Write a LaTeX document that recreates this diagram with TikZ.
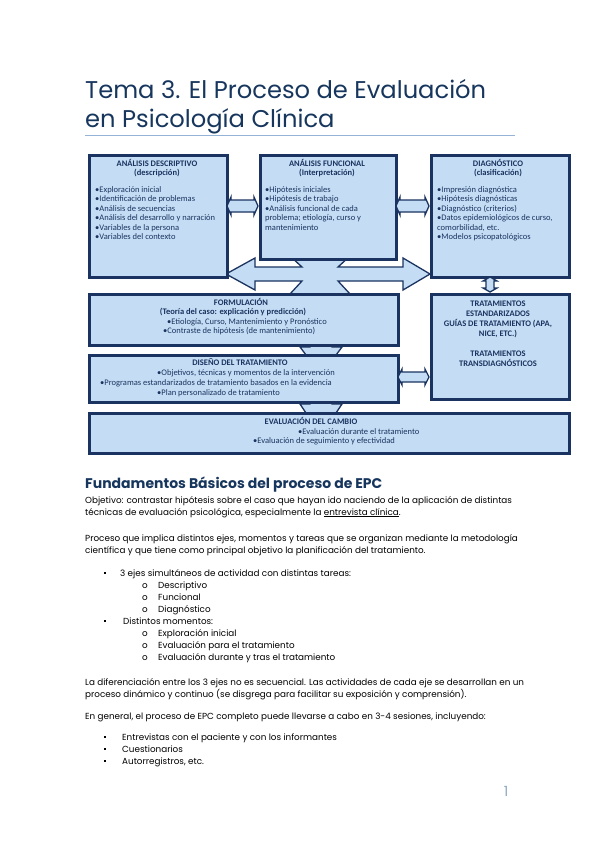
\documentclass[tikz,border=0pt]{standalone}
\usepackage{fontspec}
\setmainfont{Poppins}
\newfontfamily\boxfont{Carlito}
\usetikzlibrary{calc}
\definecolor{navy}{HTML}{1B3360}
\definecolor{titleblue}{HTML}{17365D}
\definecolor{boxfill}{HTML}{C4DDF4}
\definecolor{rulec}{HTML}{95B3D7}
\definecolor{pagenum}{HTML}{8EA9C1}
\tikzset{
  box/.style={draw=navy, line width=2.6pt, fill=boxfill, inner sep=0pt, anchor=north west},
  barrow/.style={draw=navy, line width=1.3pt, fill=boxfill, line join=miter},
  btxt/.style={font=\boxfont\fontsize{8.5}{9.5}\selectfont, text=navy, inner sep=0pt, anchor=base west},
  bhead/.style={font=\boxfont\bfseries\fontsize{8.5}{9.5}\selectfont, text=navy, inner sep=0pt, anchor=base},
  titletxt/.style={font=\fontsize{24.2}{28}\selectfont, text=titleblue, inner sep=0pt, anchor=base west},
  headtxt/.style={font=\bfseries\fontsize{14}{16}\selectfont, text=titleblue, inner sep=0pt, anchor=base west},
  body/.style={font=\fontsize{8.8}{10}\selectfont, text=black, inner sep=0pt, anchor=base west},
  sq/.style={fill=black, minimum size=2.4pt, inner sep=0pt},
}
\newcommand{\hdarr}[6]{% x1 x2 y shafthalf headhalf headlen
  \draw[barrow] (#1,#3) -- ({#1+#6},{#3-#5}) -- ({#1+#6},{#3-#4}) -- ({#2-#6},{#3-#4}) -- ({#2-#6},{#3-#5}) -- (#2,#3)
    -- ({#2-#6},{#3+#5}) -- ({#2-#6},{#3+#4}) -- ({#1+#6},{#3+#4}) -- ({#1+#6},{#3+#5}) -- cycle;}
\newcommand{\vdarr}[6]{% y1 y2 x shafthalf headhalf headlen
  \draw[barrow] (#3,#1) -- ({#3-#5},{#1+#6}) -- ({#3-#4},{#1+#6}) -- ({#3-#4},{#2-#6}) -- ({#3-#5},{#2-#6}) -- (#3,#2)
    -- ({#3+#5},{#2-#6}) -- ({#3+#4},{#2-#6}) -- ({#3+#4},{#1+#6}) -- ({#3+#5},{#1+#6}) -- cycle;}
\newcommand{\downarr}[3]{% ytop ybottom xcenter
  \draw[barrow] ({#3-11},#1) -- ({#3-11},{#1+4}) -- ({#3-21},{#1+4}) -- ({#3-15},#2) -- ({#3+15},#2) -- ({#3+21},{#1+4}) -- ({#3+11},{#1+4}) -- ({#3+11},#1);}
\begin{document}
\begin{tikzpicture}[x=1pt,y=-1pt]
\path[use as bounding box, fill=white] (0,0) rectangle (599,848);

% Title
\node[titletxt] (t1) at (85,99) {Tema 3. El Proceso de Evaluación};
\node[titletxt] (t2) at (85,128) {en Psicología Clínica};
\draw[rulec, line width=0.9pt] (85,135) -- (515,135);

% big cross arrow (behind boxes)
\draw[barrow] (226,274) -- (255,258) -- (255,267) -- (302,267) -- (290,256) -- (350,256) -- (338,267) -- (403,267) -- (403,258) -- (430,274)
  -- (403,290) -- (403,281) -- (338,281) -- (350,294) -- (290,294) -- (302,281) -- (255,281) -- (255,290) -- cycle;
\downarr{343}{355}{321}
\downarr{400}{413}{321}

% Boxes
\node[box, minimum width=138pt, minimum height=122pt] (desc) at (88,154) {};
\node[box, minimum width=136pt, minimum height=104pt] (func) at (259,154) {};
\node[box, minimum width=138pt, minimum height=122pt] (diag) at (430,154) {};
\node[box, minimum width=309pt, minimum height=51pt] (form) at (88,293) {};
\node[box, minimum width=138pt, minimum height=105pt] (trat) at (430,293) {};
\node[box, minimum width=309pt, minimum height=47pt] (dise) at (88,354) {};
\node[box, minimum width=480pt, minimum height=40pt] (eval) at (88,412) {};

% small double arrows
\hdarr{227}{258}{206}{6}{9}{4}
\hdarr{396}{429}{206}{6}{9}{4}
\vdarr{277}{292}{490}{4}{7}{4}
\hdarr{398}{429}{377}{5}{8}{4}

% Box 1 text
\node[bhead] (d0) at (157,166) {ANÁLISIS DESCRIPTIVO};
\node[bhead] (d1) at (157,175.5) {(descripción)};
\node[btxt] (d2) at (95,192) {•Exploración inicial};
\node[btxt] (d3) at (95,201.5) {•Identificación de problemas};
\node[btxt] (d4) at (95,211) {•Análisis de secuencias};
\node[btxt] (d5) at (95,220.5) {•Análisis del desarrollo y narración};
\node[btxt] (d6) at (95,230) {•Variables de la persona};
\node[btxt] (d7) at (95,239.5) {•Variables del contexto};

% Box 2 text
\node[bhead] (f0) at (327,166) {ANÁLISIS FUNCIONAL};
\node[bhead] (f1) at (327,175.5) {(Interpretación)};
\node[btxt] (f2) at (265,192) {•Hipótesis iniciales};
\node[btxt] (f3) at (265,201.5) {•Hipótesis de trabajo};
\node[btxt] (f4) at (265,211) {•Análisis funcional de cada};
\node[btxt] (f5) at (265,220.5) {problema; etiología, curso y};
\node[btxt] (f6) at (265,230) {mantenimiento};

% Box 3 text
\node[bhead] (g0) at (498,166) {DIAGNÓSTICO};
\node[bhead] (g1) at (498,175.5) {(clasificación)};
\node[btxt] (g2) at (437,192) {•Impresión diagnóstica};
\node[btxt] (g3) at (437,201.5) {•Hipótesis diagnósticas};
\node[btxt] (g4) at (437,211) {•Diagnóstico (criterios)};
\node[btxt] (g5) at (437,220.5) {•Datos epidemiológicos de curso,};
\node[btxt] (g6) at (437,230) {comorbilidad, etc.};
\node[btxt] (g7) at (437,239.5) {•Modelos psicopatológicos};

% Formulacion text
\node[bhead] (h0) at (241,305) {FORMULACIÓN};
\node[bhead] (h1) at (233,314.5) {(Teoría del caso: explicación y predicción)};
\node[btxt] (h2) at (167,324) {•Etiología, Curso, Mantenimiento y Pronóstico};
\node[btxt] (h3) at (163,333.5) {•Contraste de hipótesis (de mantenimiento)};

% Tratamientos text
\node[bhead] (k0) at (498,306) {TRATAMIENTOS};
\node[bhead] (k1) at (498,316) {ESTANDARIZADOS};
\node[bhead] (k2) at (498,326) {GUÍAS DE TRATAMIENTO (APA,};
\node[bhead] (k3) at (498,336) {NICE, ETC.)};
\node[bhead] (k4) at (498,356) {TRATAMIENTOS};
\node[bhead] (k5) at (498,366) {TRANSDIAGNÓSTICOS};

% Diseno text
\node[bhead] (m0) at (240,365.5) {DISEÑO DEL TRATAMIENTO};
\node[btxt] (m1) at (157,375) {•Objetivos, técnicas y momentos de la intervención};
\node[btxt] (m2) at (100,385) {•Programas estandarizados de tratamiento basados en la evidencia};
\node[btxt] (m3) at (157,395) {•Plan personalizado de tratamiento};

% Evaluacion text
\node[bhead] (n0) at (311,424) {EVALUACIÓN DEL CAMBIO};
\node[btxt] (n1) at (298,434) {•Evaluación durante el tratamiento};
\node[btxt] (n2) at (253,443) {•Evaluación de seguimiento y efectividad};

% Body section
\node[headtxt] (hd) at (85,488) {Fundamentos Básicos del proceso de EPC};
\node[body] (b1) at (85,503) {Objetivo: contrastar hipótesis sobre el caso que hayan ido naciendo de la aplicación de distintas};
\node[body] (b2) at (85,515) {técnicas de evaluación psicológica, especialmente la \underline{entrevista clínica}.};
\node[body] (b3) at (85,541) {Proceso que implica distintos ejes, momentos y tareas que se organizan mediante la metodología};
\node[body] (b4) at (85,553) {científica y que tiene como principal objetivo la planificación del tratamiento.};

\node[sq] (s1) at (105,573) {};
\node[body] (l1) at (120,576) {3 ejes simultáneos de actividad con distintas tareas:};
\node[body] (o1) at (142,588) {o};
\node[body] (l2) at (158,588) {Descriptivo};
\node[body] (o2) at (142,600) {o};
\node[body] (l3) at (158,600) {Funcional};
\node[body] (o3) at (142,612) {o};
\node[body] (l4) at (158,612) {Diagnóstico};
\node[sq] (s2) at (105,621) {};
\node[body] (l5) at (123,624) {Distintos momentos:};
\node[body] (o4) at (142,636) {o};
\node[body] (l6) at (158,636) {Exploración inicial};
\node[body] (o5) at (142,648) {o};
\node[body] (l7) at (158,648) {Evaluación para el tratamiento};
\node[body] (o6) at (142,660) {o};
\node[body] (l8) at (158,660) {Evaluación durante y tras el tratamiento};

\node[body] (p1) at (85,685) {La diferenciación entre los 3 ejes no es secuencial. Las actividades de cada eje se desarrollan en un};
\node[body] (p2) at (85,697) {proceso dinámico y continuo (se disgrega para facilitar su exposición y comprensión).};
\node[body] (p3) at (85,719) {En general, el proceso de EPC completo puede llevarse a cabo en 3-4 sesiones, incluyendo:};

\node[sq] (s3) at (105,737) {};
\node[body] (q1) at (122,740) {Entrevistas con el paciente y con los informantes};
\node[sq] (s4) at (105,749) {};
\node[body] (q2) at (122,752) {Cuestionarios};
\node[sq] (s5) at (105,761) {};
\node[body] (q3) at (122,764) {Autorregistros, etc.};

\node[font=\fontsize{14}{16}\selectfont, text=pagenum, inner sep=0pt, anchor=base] (pg) at (506,796) {1};
\end{tikzpicture}
\end{document}
